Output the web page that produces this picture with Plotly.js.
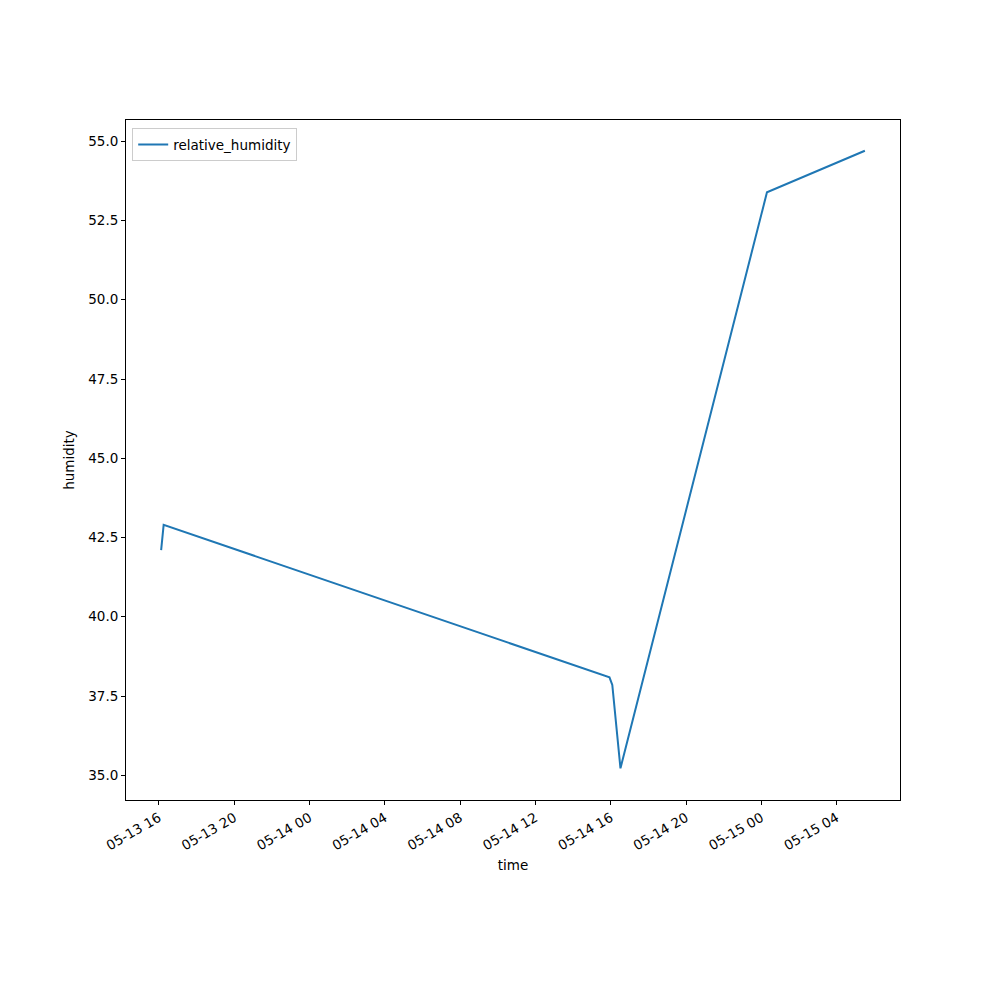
<!DOCTYPE html>
<html>
<head>
<meta charset="utf-8">
<script src="https://cdn.plot.ly/plotly-3.0.1.min.js"></script>
<style>html,body{margin:0;padding:0;background:#fff;}#chart{width:1000px;height:1000px;}</style>
</head>
<body>
<div id="chart"></div>
<script>
const times = ["2024-05-13 16:07","2024-05-13 16:15","2024-05-14 15:56","2024-05-14 16:05","2024-05-14 16:31","2024-05-15 00:18","2024-05-15 05:30"];
const humidity = [42.10, 42.90, 38.09, 37.85, 35.22, 53.39, 54.70];
const seriesName = "relative_humidity";
const xTickVals = ["2024-05-13 16:00","2024-05-13 20:00","2024-05-14 00:00","2024-05-14 04:00","2024-05-14 08:00","2024-05-14 12:00","2024-05-14 16:00","2024-05-14 20:00","2024-05-15 00:00","2024-05-15 04:00"];
const xTickText = ["05-13 16","05-13 20","05-14 00","05-14 04","05-14 08","05-14 12","05-14 16","05-14 20","05-15 00","05-15 04"];
const yTickVals = [35.0, 37.5, 40.0, 42.5, 45.0, 47.5, 50.0, 52.5, 55.0];

const font = {family: "DejaVu Sans", size: 13.5, color: "#000"};
Plotly.newPlot("chart", [{
  x: times, y: humidity, type: "scatter", mode: "lines", name: seriesName,
  line: {color: "#1f77b4", width: 2}
}], {
  width: 1000, height: 1000,
  paper_bgcolor: "#fff", plot_bgcolor: "#fff",
  font: font,
  margin: {l: 126, r: 100, t: 120, b: 200},
  showlegend: true,
  legend: {x: 0.008, y: 0.988, xanchor: "left", yanchor: "top", bordercolor: "#cccccc", borderwidth: 1, bgcolor: "rgba(255,255,255,0.8)", font: font},
  xaxis: {
    type: "date",
    range: ["2024-05-13 14:15", "2024-05-15 07:22"],
    tickvals: xTickVals, ticktext: xTickText, tickangle: -30,
    ticks: "outside", ticklen: 4, tickcolor: "#000",
    showgrid: false, zeroline: false,
    showline: true, linecolor: "#000", linewidth: 1, mirror: true,
    title: {text: "time", font: font, standoff: 8},
    tickfont: font
  },
  yaxis: {
    range: [34.22, 55.67],
    tickvals: yTickVals, tickformat: ".1f",
    ticks: "outside", ticklen: 4, tickcolor: "#000",
    showgrid: false, zeroline: false,
    showline: true, linecolor: "#000", linewidth: 1, mirror: true,
    title: {text: "humidity", font: font, standoff: 10},
    tickfont: font
  }
}, {displayModeBar: false});
</script>
</body>
</html>
